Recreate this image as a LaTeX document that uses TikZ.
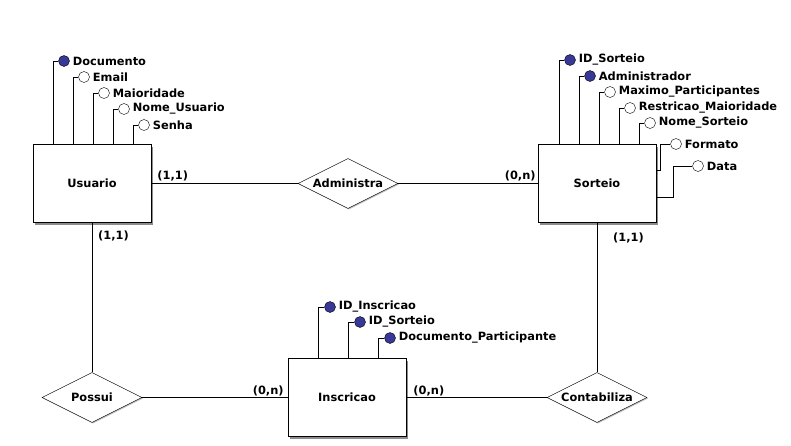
\documentclass[tikz,border=0pt]{standalone}
\usepackage{fontspec}
\setmainfont{DejaVu Sans}
\usetikzlibrary{shapes.geometric,shadows}
\definecolor{chave}{RGB}{56,56,150}
\begin{document}
\begin{tikzpicture}[x=1pt,y=-1pt,
	every node/.style={font=\bfseries\fontsize{11.4}{13}\selectfont},
	entidade/.style={draw,fill=white,minimum width=118pt,minimum height=78pt,inner sep=0pt,
		drop shadow={shadow xshift=2pt,shadow yshift=-2pt,fill=black!45,opacity=1}},
	relacao/.style={draw,fill=white,diamond,aspect=2,minimum width=100pt,minimum height=50pt,inner sep=0pt,
		drop shadow={shadow xshift=1pt,shadow yshift=-1pt,fill=black!25,opacity=1}},
	atrib/.style={draw,circle,fill=white,minimum size=11pt,inner sep=0pt,
		label={[inner sep=0pt,label distance=3pt]right:#1}},
	chv/.style={atrib={#1},fill=chave},
	card/.style={inner sep=0pt}]
			\useasboundingbox (0,0) rectangle (791,445);
			\node[entidade] (usu) at (92,183.5) {Usuario};
			\node[entidade] (sor) at (597,183.5) {Sorteio};
			\node[entidade] (ins) at (347,397.5) {Inscricao};
			\node[relacao] (adm) at (348,183.5) {Administra};
			\node[relacao] (pos) at (92,397.5) {Possui};
			\node[relacao] (con) at (597,397.5) {Contabiliza};
			\draw (usu) -- (adm);
			\draw (adm) -- (sor);
			\draw (usu) -- (pos);
			\draw (pos) -- (ins);
			\draw (ins) -- (con);
			\draw (con) -- (sor);
			\node[card,anchor=south west] (c1) at ([xshift=6pt,yshift=2pt]usu.east) {(1,1)};
			\node[card,anchor=south east] (c2) at ([xshift=-2pt,yshift=2pt]sor.west) {(0,n)};
			\node[card,anchor=north west] (c3) at ([xshift=6pt,yshift=-8pt]usu.south) {(1,1)};
			\node[card,anchor=north west] (c4) at ([xshift=16pt,yshift=-9.5pt]sor.south) {(1,1)};
			\node[card,anchor=south east] (c5) at ([xshift=-4pt,yshift=1pt]ins.west) {(0,n)};
			\node[card,anchor=south west] (c6) at ([xshift=7pt,yshift=1pt]ins.east) {(0,n)};
			\node[chv=Documento] (doc) at (64,61) {};
			\node[atrib=Email] (ema) at (84,77) {};
			\node[atrib=Maioridade] (mai) at (104,93) {};
			\node[atrib=Nome\_Usuario] (nus) at (124,109) {};
			\node[atrib=Senha] (sen) at (144,125) {};
			\draw ([xshift=20pt]usu.north west) |- (doc);
			\draw ([xshift=40pt]usu.north west) |- (ema);
			\draw ([xshift=60pt]usu.north west) |- (mai);
			\draw ([xshift=80pt]usu.north west) |- (nus);
			\draw ([xshift=100pt]usu.north west) |- (sen);
			\node[chv=ID\_Sorteio] (ids) at (570,60) {};
			\node[chv=Administrador] (adr) at (590,76) {};
			\node[atrib=Maximo\_Participantes] (max) at (610,92) {};
			\node[atrib=Restricao\_Maioridade] (res) at (630,108) {};
			\node[atrib=Nome\_Sorteio] (nso) at (650,123) {};
			\node[atrib=Formato] (fmt) at (676,144) {};
			\node[atrib=Data] (dat) at (698,166) {};
			\draw ([xshift=21pt]sor.north west) |- (ids);
			\draw ([xshift=41pt]sor.north west) |- (adr);
			\draw ([xshift=61pt]sor.north west) |- (max);
			\draw ([xshift=81pt]sor.north west) |- (res);
			\draw ([xshift=101pt]sor.north west) |- (nso);
			\draw ([yshift=13.5pt]sor.east) -- ++(4,0) |- (fmt);
			\draw ([yshift=-13.5pt]sor.east) -- ++(17,0) |- (dat);
			\node[chv=ID\_Inscricao] (idi) at (330,307) {};
			\node[chv=ID\_Sorteio] (isr) at (360,322) {};
			\node[chv=Documento\_Participante] (dpa) at (390,338) {};
			\draw ([xshift=30pt]ins.north west) |- (idi);
			\draw ([xshift=60pt]ins.north west) |- (isr);
			\draw ([xshift=90pt]ins.north west) |- (dpa);
\end{tikzpicture}
\end{document}
